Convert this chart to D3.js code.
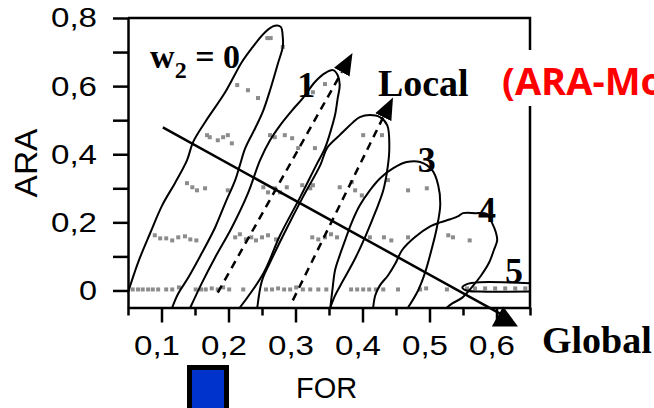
<!DOCTYPE html>
<html>
<head>
<meta charset="utf-8">
<script src="https://cdn.jsdelivr.net/npm/d3@7"></script>
<style>
  body { margin: 0; background: #fff; }
  svg { display: block; background: #fff; }
  .tick text { font-family: "Liberation Sans", Arial, sans-serif; font-size: 28px; fill: #000; }
  .tick line, .domain { stroke: #000; stroke-width: 2.5px; }
  .serif { font-family: "Liberation Serif", "Times New Roman", serif; font-weight: bold; fill: #000; }
</style>
</head>
<body>
<svg id="chart" width="654" height="408"></svg>
<script>
// axis setup (FOR on x, ARA on y)
var xDomain = [0.05, 0.65];
var yDomain = [-0.05, 0.8];
var xTicks = [0.05, 0.1, 0.15, 0.2, 0.25, 0.3, 0.35, 0.4, 0.45, 0.5, 0.55, 0.6, 0.65];
var yTicks = [0, 0.1, 0.2, 0.3, 0.4, 0.5, 0.6, 0.7, 0.8];

// contour loops, one per w2 value, as [FOR, ARA]
var loop0 = [[0.050,-0.006],[0.065,0.082],[0.083,0.168],[0.101,0.250],[0.120,0.315],[0.138,0.382],[0.147,0.435],[0.165,0.494],[0.195,0.582],[0.220,0.671],[0.235,0.712],[0.255,0.759],[0.269,0.777],[0.278,0.774],[0.281,0.744],[0.281,0.715],[0.274,0.668],[0.262,0.588],[0.252,0.529],[0.240,0.477],[0.225,0.418],[0.217,0.368],[0.210,0.324],[0.195,0.256],[0.180,0.185],[0.160,0.109],[0.140,0.038],[0.125,-0.009],[0.116,-0.05]];
var loop1 = [[0.143,-0.05],[0.160,0.021],[0.180,0.097],[0.205,0.185],[0.229,0.285],[0.247,0.382],[0.262,0.441],[0.277,0.485],[0.295,0.529],[0.311,0.565],[0.329,0.612],[0.344,0.638],[0.356,0.647],[0.363,0.632],[0.366,0.603],[0.363,0.565],[0.359,0.515],[0.352,0.465],[0.344,0.418],[0.331,0.368],[0.307,0.274],[0.277,0.162],[0.252,0.050],[0.217,-0.05]];
var loop2 = [[0.243,-0.05],[0.250,0.029],[0.262,0.082],[0.284,0.171],[0.311,0.274],[0.337,0.368],[0.347,0.418],[0.366,0.456],[0.386,0.494],[0.396,0.509],[0.411,0.515],[0.426,0.509],[0.437,0.485],[0.440,0.418],[0.438,0.368],[0.431,0.294],[0.419,0.229],[0.405,0.162],[0.389,0.094],[0.371,0.029],[0.359,-0.015],[0.352,-0.05]];
var loop3 = [[0.352,-0.05],[0.355,0],[0.359,0.059],[0.366,0.103],[0.374,0.147],[0.384,0.200],[0.396,0.250],[0.411,0.294],[0.426,0.329],[0.446,0.359],[0.466,0.377],[0.486,0.377],[0.504,0.353],[0.513,0.309],[0.516,0.250],[0.511,0.185],[0.504,0.127],[0.493,0.050],[0.483,0],[0.468,-0.05]];
var loop4 = [[0.416,-0.05],[0.419,-0.015],[0.426,0.015],[0.438,0.044],[0.449,0.079],[0.459,0.118],[0.478,0.156],[0.501,0.188],[0.516,0.200],[0.531,0.209],[0.543,0.218],[0.550,0.227],[0.568,0.227],[0.586,0.224],[0.593,0.200],[0.599,0.171],[0.601,0.147],[0.596,0.118],[0.589,0.082],[0.577,0.044],[0.563,0.009],[0.549,-0.021],[0.534,-0.038],[0.526,-0.05]];
var loop5 = [[0.650,0.021],[0.575,0.024],[0.555,0.018],[0.549,0.009],[0.555,0],[0.575,-0.003],[0.650,-0.003]];

// dashed "Local" arrows and solid "Global" arrow
var dash1 = [[0.184,-0.006],[0.369,0.641]];
var dash2 = [[0.296,-0.029],[0.431,0.509]];
var globalLine = [[0.102,0.479],[0.608,-0.071]];
var globalHead = [[0.610,-0.047],[0.593,-0.106],[0.632,-0.106]];

// simulated points, by ARA band
var band0 = [[0.057,0.003],[0.065,0.003],[0.072,0.003],[0.080,0.003],[0.087,0.003],[0.095,0.003],[0.107,0.003],[0.116,0.003],[0.126,0.009],[0.151,0.003],[0.159,0.003],[0.166,0.003],[0.175,0.006],[0.184,0.003],[0.192,0.009],[0.201,0.003],[0.222,0.003],[0.256,0.003],[0.265,0.003],[0.274,0.006],[0.283,0.003],[0.292,0.003],[0.301,0.009],[0.311,0.003],[0.322,0.003],[0.334,0.003],[0.346,0.003],[0.383,0.003],[0.392,0.003],[0.401,0.003],[0.410,0.003],[0.420,0.003],[0.431,0.003],[0.453,0.003],[0.486,0.003],[0.495,0.006],[0.526,0.003],[0.556,0.006],[0.568,0.006],[0.583,0.006],[0.598,0.006],[0.613,0.006],[0.628,0.006],[0.643,0.006]];
var band1 = [[0.090,0.162],[0.098,0.153],[0.107,0.153],[0.116,0.147],[0.125,0.156],[0.135,0.159],[0.143,0.150],[0.152,0.147],[0.210,0.156],[0.217,0.165],[0.226,0.150],[0.234,0.156],[0.241,0.147],[0.250,0.156],[0.259,0.162],[0.271,0.150],[0.325,0.156],[0.334,0.150],[0.344,0.156],[0.353,0.165],[0.362,0.156],[0.411,0.156],[0.432,0.156],[0.443,0.147],[0.468,0.156],[0.528,0.162],[0.535,0.156],[0.560,0.147]];
var band2 = [[0.138,0.315],[0.146,0.303],[0.153,0.294],[0.165,0.300],[0.199,0.294],[0.252,0.303],[0.259,0.288],[0.269,0.300],[0.277,0.288],[0.287,0.303],[0.310,0.309],[0.322,0.300],[0.326,0.309],[0.366,0.303],[0.384,0.318],[0.389,0.294],[0.399,0.279],[0.438,0.324],[0.468,0.294],[0.496,0.300]];
var band3 = [[0.168,0.456],[0.172,0.450],[0.184,0.441],[0.192,0.450],[0.199,0.456],[0.205,0.432],[0.262,0.456],[0.269,0.450],[0.284,0.456],[0.295,0.447],[0.304,0.418],[0.329,0.418],[0.401,0.456],[0.429,0.456]];
var band4 = [[0.213,0.603],[0.229,0.588],[0.244,0.565],[0.326,0.582],[0.344,0.606]];
var band5 = [[0.258,0.741],[0.263,0.741],[0.281,0.715]];

// curve labels: text, FOR, ARA, size
var loopLabels = [["1",0.316,0.568,36],["3",0.496,0.347,36],["4",0.586,0.200,36],["5",0.626,0.021,36]];

var svg = d3.select("#chart");
var x = d3.scaleLinear().domain(xDomain).range([128, 530]);
var y = d3.scaleLinear().domain(yDomain).range([307.5, 18]);

function fmt(v) { return v === 0 ? "0" : d3.format(".1f")(v).replace(".", ","); }
function isMajor(v) { return Math.abs(v * 10 - Math.round(v * 10)) < 1e-6; }

// y axis
var yAxis = d3.axisLeft(y).tickValues(yTicks).tickSize(15).tickSizeOuter(0).tickPadding(16)
    .tickFormat(function(d) { return Math.round(d * 10) % 2 === 0 ? fmt(d) : ""; });
var gy = svg.append("g").attr("transform", "translate(128,0)").call(yAxis)
    .attr("font-size", null).attr("font-family", null);
gy.selectAll(".tick text")
    .filter(function(d) { return Math.round(d * 10) % 2 === 0; })
    .attr("textLength", function(d) { return d === 0 ? 18 : 46; })
    .attr("lengthAdjust", "spacingAndGlyphs");

// x axis
var xAxis = d3.axisBottom(x).tickValues(xTicks).tickSize(15).tickSizeOuter(0)
    .tickFormat(function(d) { return isMajor(d) ? fmt(d) : ""; });
var gx = svg.append("g").attr("transform", "translate(0,307.5)").call(xAxis)
    .attr("font-size", null).attr("font-family", null);
gx.selectAll(".tick line").attr("y2", function(d) { return isMajor(d) ? 15 : 8; });
gx.selectAll(".tick text")
    .attr("y", 47.5).attr("dy", null).attr("dx", -5)
    .filter(function(d) { return isMajor(d); })
    .attr("textLength", 46).attr("lengthAdjust", "spacingAndGlyphs");

// top and right frame
svg.append("path")
    .attr("d", "M" + x(xDomain[0]) + "," + y(yDomain[1]) + "H" + x(xDomain[1]) + "V" + y(yDomain[0]))
    .attr("fill", "none").attr("stroke", "#000").attr("stroke-width", 2.5);

// points
var bands = [band0, band1, band2, band3, band4, band5];
svg.append("g").selectAll("rect")
    .data(d3.merge(bands))
    .enter().append("rect")
    .attr("x", function(d) { return x(d[0]) - 2; })
    .attr("y", function(d) { return y(d[1]) - 2; })
    .attr("width", 4).attr("height", 4)
    .attr("fill", "#8c8c8c");

// loops
var line = d3.line()
    .x(function(d) { return x(d[0]); })
    .y(function(d) { return y(d[1]); })
    .curve(d3.curveCatmullRom.alpha(0.5));

svg.append("g").selectAll("path")
    .data([loop0, loop1, loop2, loop3, loop4, loop5])
    .enter().append("path")
    .attr("d", line)
    .attr("fill", "none").attr("stroke", "#000").attr("stroke-width", 2);

// arrowhead marker for local arrows
svg.append("defs").append("marker")
    .attr("id", "head")
    .attr("viewBox", "0 -9 22 18")
    .attr("refX", 0).attr("refY", 0)
    .attr("markerUnits", "userSpaceOnUse")
    .attr("markerWidth", 22).attr("markerHeight", 18)
    .attr("orient", "auto")
    .append("path")
    .attr("d", "M0,-9L22,0L0,9Z")
    .attr("fill", "#000");

var straight = d3.line().x(function(d) { return x(d[0]); }).y(function(d) { return y(d[1]); });

svg.append("g").selectAll("path")
    .data([dash1, dash2])
    .enter().append("path")
    .attr("d", straight)
    .attr("fill", "none").attr("stroke", "#000").attr("stroke-width", 2.5)
    .attr("stroke-dasharray", "8,6")
    .attr("marker-end", "url(#head)");

svg.append("path").attr("d", straight(globalLine))
    .attr("fill", "none").attr("stroke", "#000").attr("stroke-width", 2.5);
svg.append("path").attr("d", straight(globalHead) + "Z").attr("fill", "#000");

// loop labels
svg.append("g").selectAll("text")
    .data(loopLabels)
    .enter().append("text")
    .attr("class", "serif")
    .attr("x", function(d) { return x(d[1]); })
    .attr("y", function(d) { return y(d[2]); })
    .attr("text-anchor", "middle")
    .attr("font-size", function(d) { return d[3] + "px"; })
    .text(function(d) { return d[0]; });

var w2 = svg.append("text").attr("class", "serif")
    .attr("x", x(0.083)).attr("y", y(0.653)).attr("font-size", "34px");
w2.append("tspan").text("w");
w2.append("tspan").attr("font-size", "24px").attr("dy", 10).text("2");
w2.append("tspan").attr("dy", -10).text(" = 0");

svg.append("text").attr("class", "serif")
    .attr("x", x(0.423)).attr("y", y(0.571)).attr("font-size", "38px").text("Local");

svg.append("text").attr("class", "serif")
    .attr("x", 542).attr("y", 353).attr("font-size", "38px").text("Global");

// y label
svg.append("text")
    .attr("transform", "translate(37,163) rotate(-90)")
    .attr("text-anchor", "middle")
    .attr("font-family", "'Liberation Sans', Arial, sans-serif")
    .attr("font-size", "31px")
    .attr("textLength", 69).attr("lengthAdjust", "spacingAndGlyphs")
    .text("ARA");

// red caption with white backing (runs off the right edge, as in the source figure)
svg.append("rect").attr("x", 498).attr("y", 50).attr("width", 156).attr("height", 56).attr("fill", "#fff");
svg.append("text")
    .attr("x", 502).attr("y", 95)
    .attr("font-family", "'Open Sans', sans-serif")
    .attr("font-weight", "bold")
    .attr("font-size", "38px")
    .attr("fill", "#ff0000")
    .text("(ARA-Model)");

// legend
svg.append("rect").attr("x", 189.5).attr("y", 367.5).attr("width", 37).attr("height", 60)
    .attr("fill", "#0033cc").attr("stroke", "#000").attr("stroke-width", 5);
svg.append("text")
    .attr("x", 296).attr("y", 398)
    .attr("font-family", "'Liberation Sans', Arial, sans-serif")
    .attr("font-size", "29px")
    .text("FOR");
</script>
</body>
</html>
